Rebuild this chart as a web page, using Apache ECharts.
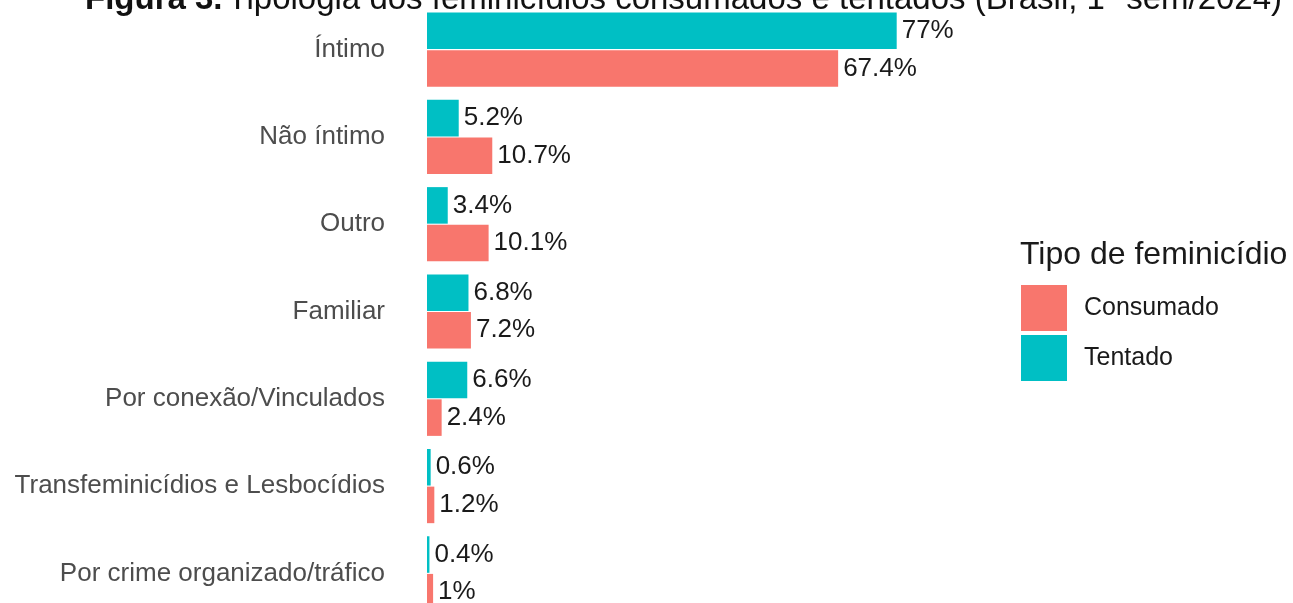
<!DOCTYPE html>
<html>
<head>
<meta charset="utf-8">
<script src="https://cdn.jsdelivr.net/npm/echarts@6/dist/echarts.min.js"></script>
<style>
  html, body { margin: 0; padding: 0; background: #fff; overflow: hidden; }
  #chart { width: 1293px; height: 625px; }
</style>
</head>
<body>
<div id="chart"></div>
<script>
const categories = [
  'Íntimo',
  'Não íntimo',
  'Outro',
  'Familiar',
  'Por conexão/Vinculados',
  'Transfeminicídios e Lesbocídios',
  'Por crime organizado/tráfico',
];
const tentado = [77, 5.2, 3.4, 6.8, 6.6, 0.6, 0.4];
const consumado = [67.4, 10.7, 10.1, 7.2, 2.4, 1.2, 1];

const chart = echarts.init(document.getElementById('chart'));

const labelStyle = {
  show: true,
  position: 'right',
  distance: 5,
  fontFamily: 'Liberation Sans',
  fontSize: 26,
  color: '#1a1a1a',
  formatter: (p) => p.value + '%',
};

const option = {
  animation: false,
  title: {
    left: 80,
    top: -22,
    text: '{b|Figura 3.} {n|Tipologia dos feminicídios consumados e tentados (Brasil, 1º sem/2024)}',
    textStyle: {
      fontWeight: 'normal',
      rich: {
        b: { fontFamily: 'Liberation Sans', fontSize: 33, fontWeight: 'bold', color: '#111' },
        n: { fontFamily: 'Liberation Sans', fontSize: 33, fontWeight: 'normal', color: '#111' },
      },
    },
  },
  legend: {
    orient: 'vertical',
    left: 1021,
    top: 285,
    padding: 0,
    itemWidth: 46,
    itemHeight: 46,
    itemGap: 4,
    icon: 'rect',
    data: ['Consumado', 'Tentado'],
    textStyle: { fontFamily: 'Liberation Sans', fontSize: 25, color: '#1a1a1a', padding: [3, 0, 0, 12] },
  },
  graphic: [{
    type: 'text',
    left: 1020,
    top: 239,
    style: {
      text: 'Tipo de feminicídio',
      fontFamily: 'Liberation Sans',
      fontSize: 32,
      fill: '#1a1a1a',
    },
  }],
  grid: { left: 427, top: 6, width: 488, height: 611 },
  xAxis: {
    type: 'value',
    min: 0,
    max: 80,
    show: false,
  },
  yAxis: {
    type: 'category',
    data: categories,
    inverse: true,
    axisLine: { show: false },
    axisTick: { show: false },
    axisLabel: {
      margin: 42,
      fontFamily: 'Liberation Sans',
      fontSize: 26,
      color: '#4d4d4d',
    },
  },
  series: [
    {
      name: 'Tentado',
      type: 'bar',
      data: tentado,
      barGap: '3%',
      barCategoryGap: '15%',
      itemStyle: { color: '#00BFC4' },
      label: labelStyle,
    },
    {
      name: 'Consumado',
      type: 'bar',
      data: consumado,
      itemStyle: { color: '#F8766D' },
      label: labelStyle,
    },
  ],
};

chart.setOption(option);
</script>
</body>
</html>
